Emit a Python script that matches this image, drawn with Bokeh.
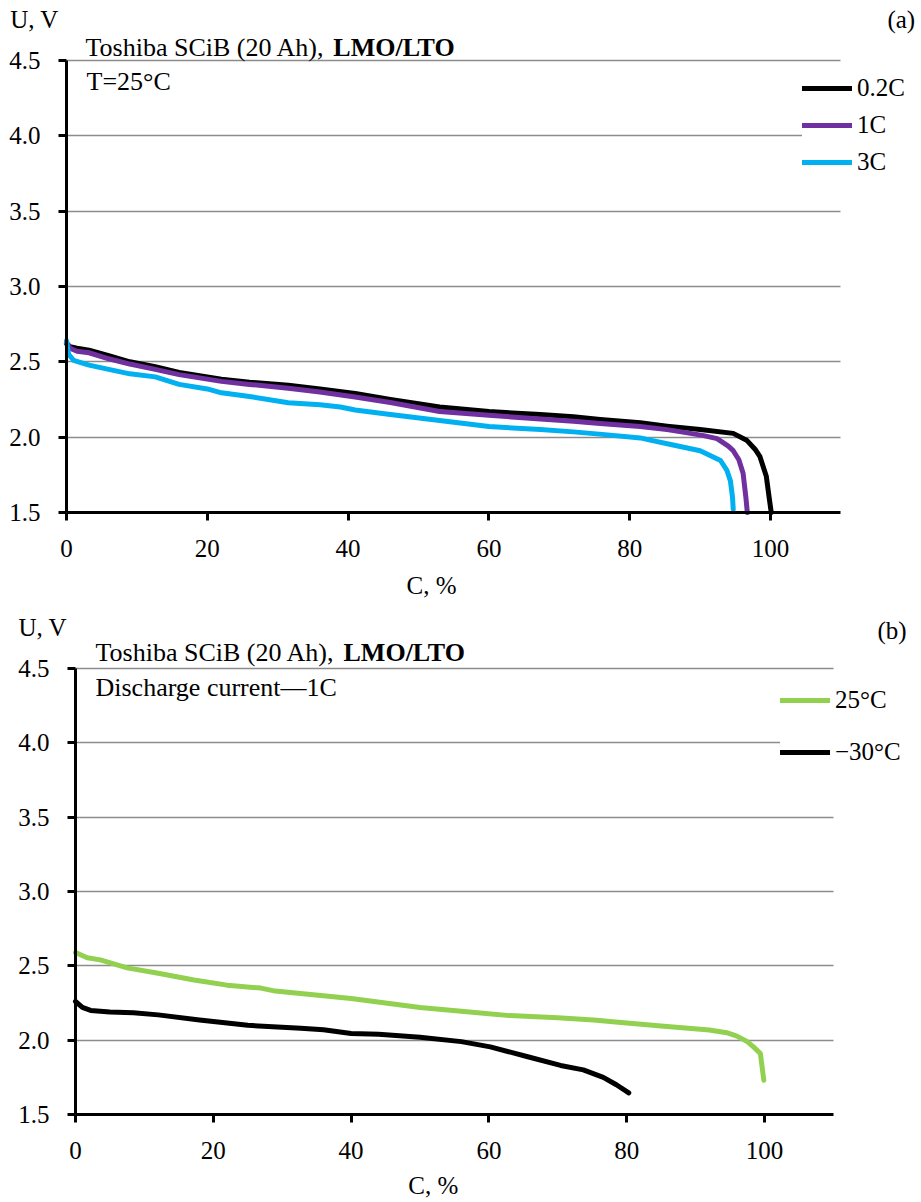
from bokeh.plotting import figure
from bokeh.models import Range1d, FixedTicker, NumeralTickFormatter, Label, Legend, LegendItem
from bokeh.layouts import column
from bokeh.embed import file_html
from bokeh.resources import INLINE

# ---------------- data (a) ----------------
x_02c = [0, 0.5, 1.5, 3.2, 6, 9, 12.6, 16, 20, 22, 26, 31.5, 36, 41, 46, 53, 60, 67.3, 72, 75.8,
         81.5, 85.3, 90, 94.7, 96.6, 97.8, 98.5, 99.4, 99.8, 100.1]
y_02c = [2.62, 2.60, 2.59, 2.577, 2.54, 2.50, 2.467, 2.43, 2.40, 2.385, 2.365, 2.345, 2.32, 2.29, 2.25,
         2.20, 2.17, 2.15, 2.135, 2.117, 2.095, 2.073, 2.05, 2.025, 1.98, 1.92, 1.87, 1.74, 1.6, 1.5]

x_1c = [0, 0.5, 1.5, 3.2, 6, 9, 12.6, 16, 20, 22, 26, 31.5, 36, 41, 46, 53, 60, 67.3, 72, 75.8,
        81.5, 85.3, 88, 90.5, 92.4, 94, 94.7, 95.5, 96.1, 96.5, 96.7]
y_1c = [2.63, 2.59, 2.57, 2.56, 2.52, 2.485, 2.45, 2.415, 2.385, 2.37, 2.35, 2.325, 2.30, 2.267, 2.23,
        2.17, 2.145, 2.12, 2.105, 2.09, 2.07, 2.05, 2.03, 2.01, 1.99, 1.94, 1.91, 1.85, 1.76, 1.6, 1.5]

x_3c = [0, 0.3, 1, 3.2, 6, 9, 12.6, 16, 20, 22, 26, 31.5, 36, 38.9, 41, 46, 53, 60, 67.3, 72, 75.7,
        81.5, 82.9, 86, 90, 92.9, 93.8, 94.3, 94.6, 94.7]
y_3c = [2.64, 2.55, 2.51, 2.478, 2.45, 2.42, 2.40, 2.35, 2.32, 2.294, 2.27, 2.228, 2.215, 2.20, 2.18,
        2.15, 2.11, 2.07, 2.05, 2.035, 2.02, 1.995, 1.98, 1.95, 1.91, 1.845, 1.78, 1.71, 1.6, 1.52]

# ---------------- data (b) ----------------
x_25 = [0, 1.7, 3.6, 7.5, 12, 17.2, 22, 26.9, 29, 35.6, 40, 45, 50, 56, 63, 70, 75.2, 80, 85, 92,
        94.5, 96, 97.5, 98.4, 99.4, 99.9]
y_25 = [2.59, 2.554, 2.54, 2.486, 2.45, 2.405, 2.37, 2.35, 2.33, 2.30, 2.28, 2.25, 2.22, 2.195, 2.165,
        2.15, 2.135, 2.115, 2.095, 2.068, 2.05, 2.027, 1.99, 1.955, 1.91, 1.73]

x_m30 = [0, 1, 2.2, 5, 8.4, 12, 18, 25, 32.7, 36, 40, 44, 50, 56, 60.2, 65.5, 70.4, 73.7, 76.6, 78.5, 80.3]
y_m30 = [2.26, 2.22, 2.20, 2.19, 2.185, 2.17, 2.135, 2.10, 2.08, 2.07, 2.045, 2.04, 2.02, 1.99, 1.955,
         1.89, 1.83, 1.80, 1.75, 1.70, 1.645]

x_ticks = [0, 20, 40, 60, 80, 100]
y_ticks = [1.5, 2.0, 2.5, 3.0, 3.5, 4.0, 4.5]
grid_ticks = [2.0, 2.5, 3.0, 3.5, 4.0, 4.5]
x_bounds = (0, 110)
y_bounds = (1.5, 4.5)

FONT = "Liberation Serif"
BLACK = "#000000"
PURPLE = "#7030A0"
BLUE = "#00B0F0"
GREEN = "#92D050"
GRID = "#8c8c8c"
W = 920


def make_fig(height, xr, yr):
    p = figure(width=W, height=height, x_range=Range1d(*xr), y_range=Range1d(*yr),
               output_backend="svg", toolbar_location=None, min_border=0,
               min_border_left=0, min_border_right=0, min_border_top=0, min_border_bottom=0)
    p.outline_line_color = None
    p.background_fill_color = "white"
    p.border_fill_color = "white"
    p.xgrid.visible = False
    p.xaxis.ticker = FixedTicker(ticks=x_ticks)
    p.yaxis.ticker = FixedTicker(ticks=y_ticks)
    p.yaxis.formatter = NumeralTickFormatter(format="0.0")
    p.xaxis.fixed_location = y_bounds[0]
    p.yaxis.fixed_location = x_bounds[0]
    p.xaxis.bounds = x_bounds
    p.yaxis.bounds = y_bounds
    for ax in (p.xaxis, p.yaxis):
        ax.axis_line_width = 3
        ax.axis_line_color = "black"
        ax.major_tick_line_width = 3
        ax.major_tick_line_color = "black"
        ax.major_tick_out = 8
        ax.major_tick_in = 0
        ax.minor_tick_line_color = None
        ax.major_label_text_font = FONT
        ax.major_label_text_font_size = "25px"
        ax.major_label_text_color = "black"
    p.yaxis.major_label_standoff = 18
    p.xaxis.major_label_standoff = 20
    ok = False
    try:
        p.ygrid.ticker = FixedTicker(ticks=grid_ticks)
        p.ygrid.cross_bounds = x_bounds
        p.ygrid.grid_line_color = GRID
        p.ygrid.grid_line_width = 1.5
        ok = True
    except Exception:
        ok = False
    if not ok:
        p.ygrid.visible = False
        p.segment(x0=[x_bounds[0]] * len(grid_ticks), x1=[x_bounds[1]] * len(grid_ticks),
                  y0=grid_ticks, y1=grid_ticks, line_color=GRID, line_width=1.5)
    return p


def add_label(p, x, y, text, size="25px", bold=False):
    p.add_layout(Label(x=x, y=y, text=text, text_font=FONT, text_font_size=size,
                       text_font_style="bold" if bold else "normal",
                       text_color="black", text_align="left", text_baseline="alphabetic"))


def style_legend(leg, gh, spacing, loc):
    leg.location = loc
    leg.glyph_width = 50
    leg.glyph_height = gh
    leg.label_height = gh
    leg.spacing = spacing
    leg.padding = 10
    leg.margin = 0
    leg.label_standoff = 5
    leg.label_text_font = FONT
    leg.label_text_font_size = "25px"
    leg.label_text_color = "black"
    leg.border_line_color = None
    leg.background_fill_color = "white"
    leg.background_fill_alpha = 1.0


LW = 5

# ---------------- (a) ----------------
pa = make_fig(600, (-9.375, 121.3), (0.916, 4.8975))
r1 = pa.line(x_02c, y_02c, line_color=BLACK, line_width=LW, line_join="round", line_cap="round")
r2 = pa.line(x_1c, y_1c, line_color=PURPLE, line_width=LW, line_join="round", line_cap="round")
r3 = pa.line(x_3c, y_3c, line_color=BLUE, line_width=LW, line_join="round", line_cap="round")
leg_a = Legend(items=[LegendItem(label="0.2C", renderers=[r1]),
                      LegendItem(label="1C", renderers=[r2]),
                      LegendItem(label="3C", renderers=[r3])])
style_legend(leg_a, 30, 7, (802, 423))
pa.add_layout(leg_a, "center")

add_label(pa, -8.0, 4.771, "U, V")
add_label(pa, 2.7, 4.5856, "Toshiba SCiB (20 Ah), ", "26px")
add_label(pa, 37.9, 4.5856, "LMO/LTO", "26px", bold=True)
add_label(pa, 2.84, 4.360, "T=25°C", "26px")
add_label(pa, 116.6, 4.771, "(a)")
add_label(pa, 48.3, 1.016, "C, %")

# ---------------- (b) ----------------
pb = make_fig(600, (-10.885, 122.64), (0.9215, 4.957))
g1 = pb.line(x_25, y_25, line_color=GREEN, line_width=LW, line_join="round", line_cap="round")
g2 = pb.line(x_m30, y_m30, line_color=BLACK, line_width=LW, line_join="round", line_cap="round")
leg_b = Legend(items=[LegendItem(label="25°C", renderers=[g1]),
                      LegendItem(label="−30°C", renderers=[g2])])
style_legend(leg_b, 30, 22, (780, 433))
pb.add_layout(leg_b, "center")

add_label(pb, -8.27, 4.7757, "U, V")
add_label(pb, 2.9, 4.6075, "Toshiba SCiB (20 Ah), ", "26px")
add_label(pb, 38.9, 4.6075, "LMO/LTO", "26px", bold=True)
add_label(pb, 2.9, 4.372, "Discharge current—1C", "26px")
add_label(pb, 116.4, 4.7556, "(b)")
add_label(pb, 48.3, 1.0224, "C, %")

layout = column(pa, pb)
open("out.html", "w").write(file_html(layout, INLINE))
